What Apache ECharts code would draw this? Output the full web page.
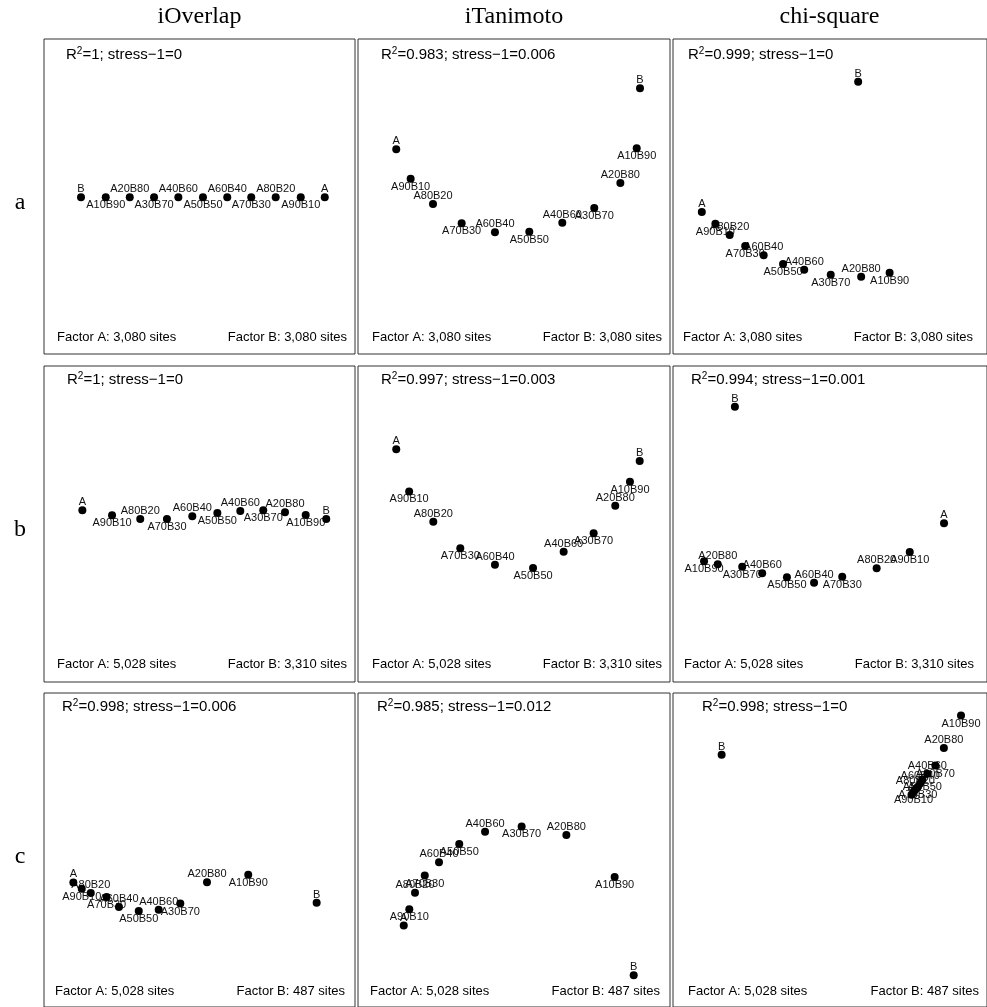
<!DOCTYPE html>
<html><head><meta charset="utf-8">
<script src="https://cdn.jsdelivr.net/npm/echarts@6/dist/echarts.min.js"></script>
<style>html,body{margin:0;padding:0;background:#fff;overflow:hidden}#c{width:987px;height:1007px}</style>
</head><body><div id="c"></div>
<script>
// ---------- data ----------
const methods = ['iOverlap', 'iTanimoto', 'chi-square'];
const rowLabels = ['a', 'b', 'c'];
const pointNames = ['A','A90B10','A80B20','A70B30','A60B40','A50B50','A40B60','A30B70','A20B80','A10B90','B'];

const a_iOverlap_x  = [0.835, 0.675, 0.508, 0.345, 0.185, 0.023, -0.141, -0.303, -0.465, -0.625, -0.790];
const a_iOverlap_y  = [-0.005, -0.005, -0.005, -0.005, -0.005, -0.005, -0.005, -0.005, -0.005, -0.005, -0.005];
const a_iTanimoto_x = [-0.785, -0.689, -0.540, -0.349, -0.127, 0.102, 0.322, 0.535, 0.709, 0.818, 0.840];
const a_iTanimoto_y = [0.315, 0.119, -0.050, -0.179, -0.239, -0.235, -0.175, -0.077, 0.090, 0.321, 0.721];
const a_chisq_x     = [-0.850, -0.759, -0.663, -0.559, -0.435, -0.305, -0.163, 0.015, 0.219, 0.410, 0.199];
const a_chisq_y     = [-0.103, -0.181, -0.257, -0.330, -0.392, -0.450, -0.488, -0.521, -0.535, -0.508, 0.765];

const b_iOverlap_x  = [-0.781, -0.583, -0.395, -0.217, -0.048, 0.119, 0.272, 0.425, 0.570, 0.708, 0.845];
const b_iOverlap_y  = [0.091, 0.058, 0.033, 0.033, 0.051, 0.073, 0.087, 0.091, 0.078, 0.060, 0.033];
const b_iTanimoto_x = [-0.785, -0.699, -0.538, -0.358, -0.127, 0.127, 0.331, 0.531, 0.675, 0.773, 0.838];
const b_iTanimoto_y = [0.498, 0.217, 0.015, -0.162, -0.271, -0.293, -0.185, -0.061, 0.122, 0.282, 0.420];
const b_chisq_x     = [0.775, 0.545, 0.323, 0.092, -0.097, -0.279, -0.445, -0.579, -0.743, -0.835, -0.628];
const b_chisq_y     = [0.005, -0.187, -0.295, -0.351, -0.391, -0.355, -0.329, -0.285, -0.269, -0.249, 0.781];

const c_iOverlap_x  = [-0.841, -0.785, -0.725, -0.619, -0.537, -0.405, -0.272, -0.128, 0.050, 0.325, 0.781];
const c_iOverlap_y  = [-0.221, -0.263, -0.292, -0.319, -0.385, -0.412, -0.405, -0.363, -0.219, -0.170, -0.357];
const c_iTanimoto_x = [-0.735, -0.698, -0.660, -0.595, -0.500, -0.365, -0.193, 0.051, 0.349, 0.671, 0.798];
const c_iTanimoto_y = [-0.510, -0.401, -0.290, -0.175, -0.085, 0.037, 0.119, 0.155, 0.097, -0.185, -0.843];
const c_chisq_x     = [0.557, 0.570, 0.583, 0.599, 0.615, 0.630, 0.663, 0.717, 0.774, 0.889, -0.717];
const c_chisq_y     = [0.368, 0.385, 0.403, 0.421, 0.443, 0.470, 0.508, 0.563, 0.681, 0.899, 0.635];

const r2Values     = [[1, 0.983, 0.999], [1, 0.997, 0.994], [0.998, 0.985, 0.998]];
const stressValues = [[0, 0.006, 0], [0, 0.003, 0.001], [0.006, 0.012, 0]];
const sitesA = ['3,080', '5,028', '5,028'];
const sitesB = ['3,080', '3,310', '487'];

const panelX = [[a_iOverlap_x, a_iTanimoto_x, a_chisq_x], [b_iOverlap_x, b_iTanimoto_x, b_chisq_x], [c_iOverlap_x, c_iTanimoto_x, c_chisq_x]];
const panelY = [[a_iOverlap_y, a_iTanimoto_y, a_chisq_y], [b_iOverlap_y, b_iTanimoto_y, b_chisq_y], [c_iOverlap_y, c_iTanimoto_y, c_chisq_y]];

// ---------- layout ----------
const SCALE = 150; // px per unit
const colLeft = [44, 358, 673], colWidth = [311, 312, 316], colCenter = [199.5, 514, 829.5];
const rowTop = [39, 366, 693], rowHeight = [315, 316, 316], rowCenter = [196.5, 524, 850.5];
const r2Off = [[22, 23, 15], [23, 23, 18], [18, 19, 29]];
const facAOff = [[13, 14, 10], [13, 14, 11], [11, 12, 15]];
const facBEnd = [[347, 662, 973], [347, 662, 974], [345, 660, 979]];

const SANS = '"Liberation Sans", Arial, sans-serif';
const SERIF = '"Liberation Serif", "DejaVu Serif", serif';

const grids = [], xAxes = [], yAxes = [], series = [], graphics = [];
for (let r = 0; r < 3; r++) {
  for (let c = 0; c < 3; c++) {
    const idx = grids.length;
    const L = colLeft[c], W = colWidth[c], T = rowTop[r], H = rowHeight[r];
    grids.push({ left: L, top: T, width: W, height: H, show: true, borderColor: '#333', borderWidth: 1, backgroundColor: 'transparent', containLabel: false });
    xAxes.push({ type: 'value', gridIndex: idx, show: false, min: (L - colCenter[c]) / SCALE, max: (L + W - colCenter[c]) / SCALE });
    yAxes.push({ type: 'value', gridIndex: idx, show: false, min: (rowCenter[r] - (T + H)) / SCALE, max: (rowCenter[r] - T) / SCALE });
    const xs = panelX[r][c], ys = panelY[r][c];
    series.push({
      type: 'scatter', xAxisIndex: idx, yAxisIndex: idx, z: 2, silent: true,
      symbolSize: 1, itemStyle: { color: 'rgba(0,0,0,0)' },
      data: xs.map((x, i) => ({ value: [x, ys[i]], name: pointNames[i],
        label: { offset: [0, i % 2 === 0 ? -8 : 8] } })),
      label: { show: true, position: 'inside', formatter: '{b}', color: '#111', opacity: 1, fontSize: 11, fontFamily: SANS, align: 'center', verticalAlign: 'middle' }
    });
    series.push({
      type: 'scatter', xAxisIndex: idx, yAxisIndex: idx, z: 3, silent: true,
      symbol: 'circle', symbolSize: 8, itemStyle: { color: '#000', opacity: 1 },
      data: xs.map((x, i) => [x, ys[i]])
    });
    // stats text
    graphics.push({ type: 'text', x: L + r2Off[r][c], y: T + (r === 0 ? 16 : 14), z: 10,
      style: { text: '{n|R}{s|2}{n|=' + r2Values[r][c] + '; stress\u22121=' + stressValues[r][c] + '}',
        rich: { n: { fontSize: 15, fontFamily: SANS, lineHeight: 18, fill: '#000' },
                s: { fontSize: 10, fontFamily: SANS, lineHeight: 8, verticalAlign: 'top', fill: '#000' } },
        fill: '#000', align: 'left', textAlign: 'left', verticalAlign: 'middle', textVerticalAlign: 'middle' } });
    graphics.push({ type: 'text', x: L + facAOff[r][c], y: T + 298, z: 10,
      style: { text: 'Factor A: ' + sitesA[r] + ' sites', font: '13px ' + SANS, fill: '#000', align: 'left', textAlign: 'left', verticalAlign: 'middle', textVerticalAlign: 'middle' } });
    graphics.push({ type: 'text', x: facBEnd[r][c], y: T + 298, z: 10,
      style: { text: 'Factor B: ' + sitesB[r] + ' sites', font: '13px ' + SANS, fill: '#000', align: 'right', textAlign: 'right', verticalAlign: 'middle', textVerticalAlign: 'middle' } });
  }
}
for (let c = 0; c < 3; c++) {
  graphics.push({ type: 'text', x: colCenter[c], y: 17, z: 10,
    style: { text: methods[c], font: '24px ' + SERIF, fill: '#000', align: 'center', textAlign: 'center', verticalAlign: 'middle', textVerticalAlign: 'middle' } });
}
for (let r = 0; r < 3; r++) {
  graphics.push({ type: 'text', x: 20, y: rowCenter[r] + 6, z: 10,
    style: { text: rowLabels[r], font: '24px ' + SERIF, fill: '#000', align: 'center', textAlign: 'center', verticalAlign: 'middle', textVerticalAlign: 'middle' } });
}

const chart = echarts.init(document.getElementById('c'), null, { renderer: 'canvas' });
chart.setOption({
  animation: false,
  backgroundColor: '#fff',
  grid: grids, xAxis: xAxes, yAxis: yAxes, series: series,
  graphic: { elements: graphics }
});
</script></body></html>
